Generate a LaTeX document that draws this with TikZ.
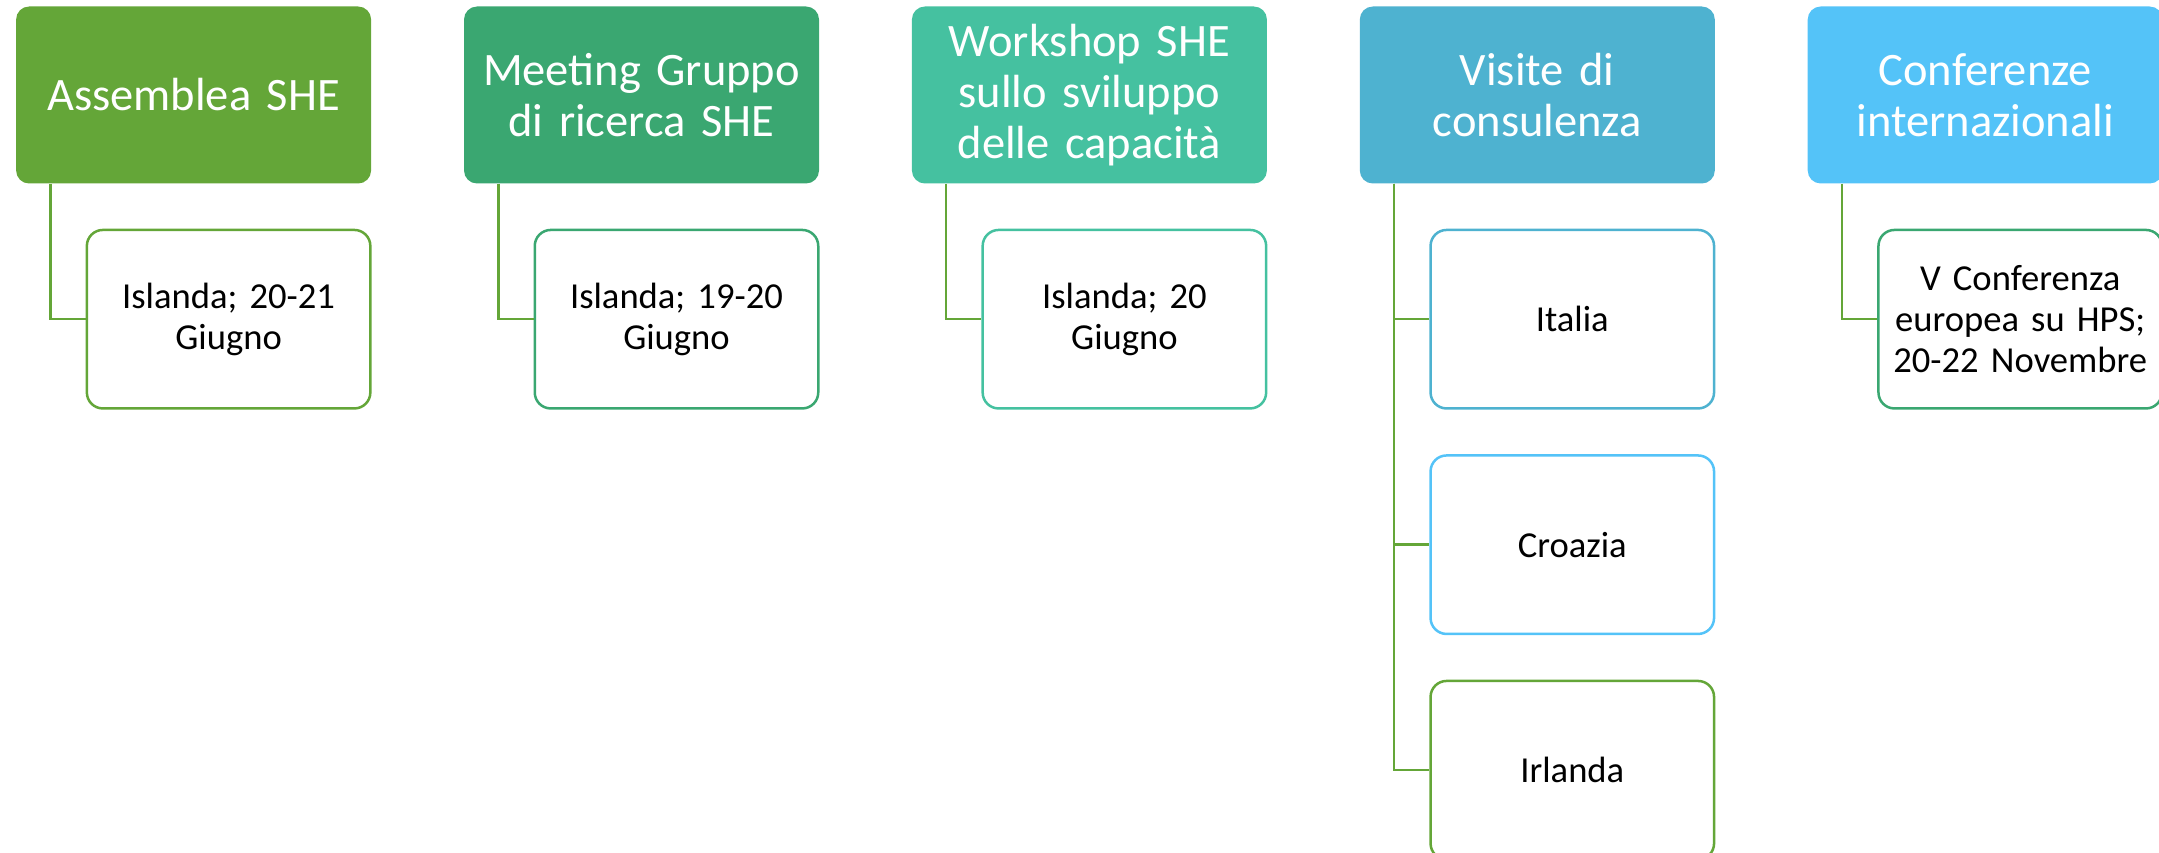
\documentclass[tikz,border=0pt]{standalone}
\usepackage{fontspec}
\setmainfont[WordSpace=0.8]{Carlito}
\usepackage{xcolor}
\usepackage{tikz}
\usetikzlibrary{positioning}
\frenchspacing

\definecolor{leaf}{RGB}{100,166,56}
\definecolor{pine}{RGB}{58,167,113}
\definecolor{mint}{RGB}{69,193,160}
\definecolor{teal}{RGB}{78,178,208}
\definecolor{sky}{RGB}{84,195,248}

\begin{document}
\begin{tikzpicture}[x = 1pt, y = 1pt, node distance = 92.5pt]
            \tikzstyle{topic} = [rectangle, rounded corners = 13pt, minimum width = 355pt, minimum height = 177pt, text width = 340pt, inner sep = 0pt, align = center, text = white, font = \fontsize{46.5}{51}\selectfont];
            \tikzstyle{event} = [rectangle, rounded corners = 16pt, draw, line width = 2.5pt, fill = white, minimum width = 283.5pt, minimum height = 178.5pt, text width = 270pt, inner sep = 0pt, align = center, font = \fontsize{36.6}{41}\selectfont];
            \tikzstyle{link} = [draw = leaf, line width = 2.5pt]
            \useasboundingbox (0, 0) rectangle (2159, -853);

            \node [topic, fill = leaf] (T1) at (193.6, -95) {Assemblea SHE};
            \node [topic, fill = pine, right = of T1] (T2) {Meeting Gruppo\\di ricerca SHE};
            \node [topic, fill = mint, right = of T2] (T3) {Workshop SHE\\sullo sviluppo\\delle capacità};
            \node [topic, fill = teal, right = of T3] (T4) {Visite di\\consulenza};
            \node [topic, fill = sky, right = of T4] (T5) {Conferenze\\internazionali};

            \node [event, draw = leaf, below = 45pt of T1, xshift = 35pt] (E1) {Islanda; 20-21\\Giugno};
            \node [event, draw = pine, below = 45pt of T2, xshift = 35pt] (E2) {Islanda; 19-20\\Giugno};
            \node [event, draw = mint, below = 45pt of T3, xshift = 35pt] (E3) {Islanda; 20\\Giugno};
            \node [event, draw = teal, below = 45pt of T4, xshift = 35pt] (E4a) {Italia};
            \node [event, draw = sky, below = 44.5pt of E4a] (E4b) {Croazia};
            \node [event, draw = leaf, below = 44.5pt of E4b] (E4c) {Irlanda};
            \node [event, draw = pine, below = 45pt of T5, xshift = 35pt] (E5) {V Conferenza\\europea su HPS;\\20-22 Novembre};

            \draw [link] ([xshift = 34.5pt]T1.south west) |- (E1.west);
            \draw [link] ([xshift = 34.5pt]T2.south west) |- (E2.west);
            \draw [link] ([xshift = 34.5pt]T3.south west) |- (E3.west);
            \foreach \e in {E4a, E4b, E4c}
                \draw [link] ([xshift = 34.5pt]T4.south west) |- (\e.west);
            \draw [link] ([xshift = 34.5pt]T5.south west) |- (E5.west);
        \end{tikzpicture}
\end{document}
